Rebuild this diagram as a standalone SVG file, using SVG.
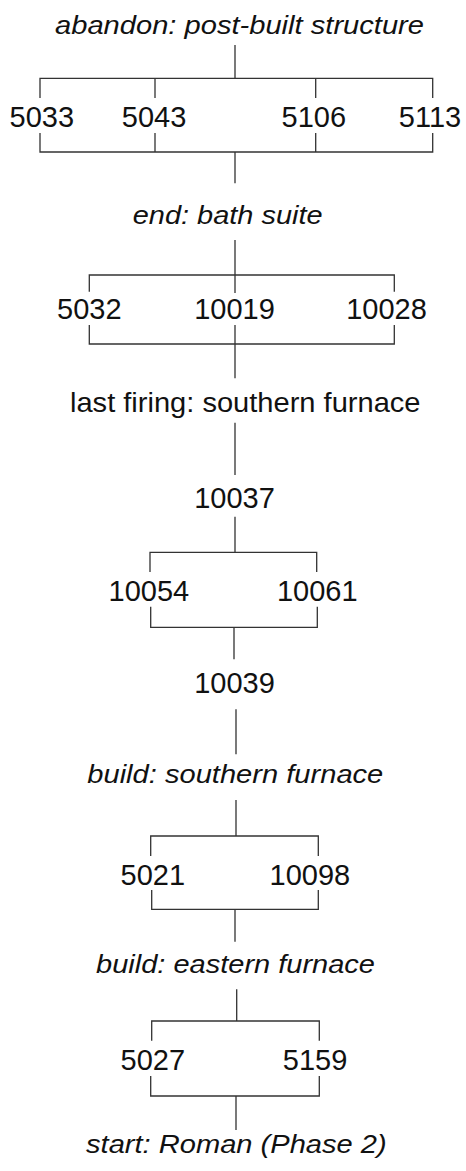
<svg xmlns="http://www.w3.org/2000/svg" width="466" height="1171" viewBox="0 0 466 1171">
<style>
.bg{fill:#ffffff}
.c path{fill:none;stroke:#333;stroke-width:1.3}
.ph{font-family:"Liberation Sans",Arial,sans-serif;font-style:italic;font-size:26.5px;fill:#111}
.ev{font-family:"Liberation Sans",Arial,sans-serif;font-size:27.5px;fill:#111}
.n{font-family:"Liberation Sans",Arial,sans-serif;font-size:29px;fill:#111}
</style>
<rect class="bg" x="0" y="0" width="466" height="1171"/>
<g id="connectors" class="c">
<path d="M235 45V78.3M40 98V78.3H432.7V98M155 78.3V98M315.7 78.3V98"/>
<path d="M40 133V152H432.7V133M155 133V152M315.7 133V152M235 152V183.3"/>
<path d="M235 240V293M89.3 291.7V275H394.3V291.7"/>
<path d="M235 325V378.3M89.3 325V344H394.3V325"/>
<path d="M235 422.7V475M235 516.7V552.3M150 572V552.3H316.7V572"/>
<path d="M150.7 606.7V627.3H317.3V606.7M234 627.3V659.3M236 709.3V754.3"/>
<path d="M236 800V836M150.7 856V836H318.3V856M151.7 890V909.3H318.3V890M235 909.3V941.7"/>
<path d="M236.7 989.3V1021M151.7 1040.7V1021H319.3V1040.7M150.7 1076V1096H319.3V1076M236 1096V1130"/>
</g>
<g id="phase-abandon"><text class="ph" x="55" y="33.5" textLength="369" lengthAdjust="spacingAndGlyphs">abandon: post-built structure</text></g>
<g id="n5033"><text class="n" x="9.5" y="126.5">5033</text></g>
<g id="n5043"><text class="n" x="121.8" y="126.5">5043</text></g>
<g id="n5106"><text class="n" x="281.5" y="126.5">5106</text></g>
<g id="n5113"><text class="n" x="398.8" y="126.5">5113</text></g>
<g id="phase-end"><text class="ph" x="132.7" y="224.3" textLength="190" lengthAdjust="spacingAndGlyphs">end: bath suite</text></g>
<g id="n5032"><text class="n" x="57.1" y="319.3">5032</text></g>
<g id="n10019"><text class="n" x="194.2" y="319.3">10019</text></g>
<g id="n10028"><text class="n" x="346.2" y="319.3">10028</text></g>
<g id="event-last-firing"><text class="ev" x="70" y="411.7" textLength="350.5" lengthAdjust="spacingAndGlyphs">last firing: southern furnace</text></g>
<g id="n10037"><text class="n" x="194.2" y="508.3">10037</text></g>
<g id="n10054"><text class="n" x="108.6" y="601">10054</text></g>
<g id="n10061"><text class="n" x="276.9" y="601">10061</text></g>
<g id="n10039"><text class="n" x="194.2" y="692.7">10039</text></g>
<g id="phase-build-southern"><text class="ph" x="87.3" y="783.3" textLength="296" lengthAdjust="spacingAndGlyphs">build: southern furnace</text></g>
<g id="n5021"><text class="n" x="120.5" y="885">5021</text></g>
<g id="n10098"><text class="n" x="269.6" y="885">10098</text></g>
<g id="phase-build-eastern"><text class="ph" x="96" y="972.7" textLength="279" lengthAdjust="spacingAndGlyphs">build: eastern furnace</text></g>
<g id="n5027"><text class="n" x="120.5" y="1070">5027</text></g>
<g id="n5159"><text class="n" x="282.8" y="1070">5159</text></g>
<g id="phase-start"><text class="ph" x="86" y="1153.3" textLength="300.7" lengthAdjust="spacingAndGlyphs">start: Roman (Phase 2)</text></g>
</svg>
